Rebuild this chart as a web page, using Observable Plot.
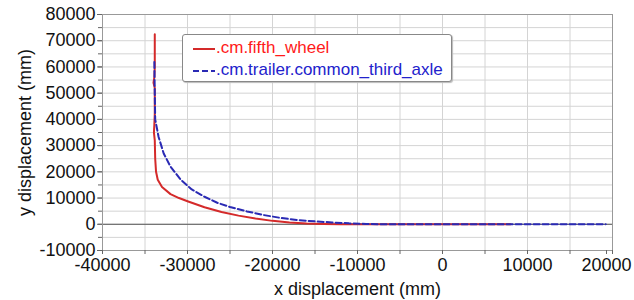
<!DOCTYPE html>
<html><head><meta charset="utf-8">
<script src="https://cdn.jsdelivr.net/npm/d3@7"></script>
<script src="https://cdn.jsdelivr.net/npm/@observablehq/plot@0.6"></script>
<style>
body{margin:0;background:#fff;font-family:"Liberation Sans",Arial,sans-serif;}
#wrap{position:relative;width:634px;height:300px;overflow:hidden;}
#legend{position:absolute;left:182px;top:34px;width:268px;height:46px;border:1px solid #888;border-radius:3px;background:#fff;font-size:17px;box-shadow:1px 1px 1px #bbb;}
#legend div{position:absolute;left:10px;white-space:nowrap;line-height:20px;}
#legend svg{vertical-align:middle;margin-right:1px;}
</style>
</head><body>
<div id="wrap"></div>
<script>
const seriesNames = [".cm.fifth_wheel", ".cm.trailer.common_third_axle"];
const fifthX = [-33850,-33850,-33900,-34000,-33850,-33850,-33900,-33950,-33850,-33800,-33700,-33500,-33000,-32000,-31000,-30000,-28000,-26000,-24000,-22000,-20000,-18000,-16000,-14000,-12000,0,8000];
const fifthY = [72500,60000,56000,54000,52000,42000,38000,35000,32000,25000,20000,17000,14200,11500,10000,8800,6500,4700,3300,2200,1300,700,300,100,0,0,0];
const thirdX = [-33900,-33850,-33800,-33400,-32800,-32000,-30800,-29500,-28000,-26500,-25000,-23000,-21000,-19000,-17000,-15000,-13000,-11000,-9000,-7000,19200];
const thirdY = [61900,50000,40000,33300,27000,22000,17000,13300,10500,8200,6600,4900,3500,2400,1600,1100,700,350,150,0,0];
const xTicks = [-40000,-30000,-20000,-10000,0,10000,20000];
const yTicks = [-10000,0,10000,20000,30000,40000,50000,60000,70000,80000];
const colors = ["#d42a2a","#2a2ab4"];
const textColors = ["#ff1a1a","#2222cc"];

const fifth = fifthX.map((x,i)=>({x, y: fifthY[i]}));
const third = thirdX.map((x,i)=>({x, y: thirdY[i]}));
const minorX = d3.range(-40000,20001,5000);
const minorY = d3.range(-10000,80001,5000);
const lastX = xTicks[xTicks.length-1];

const chart = Plot.plot({
  width: 634, height: 300,
  marginLeft: 102, marginRight: 22, marginTop: 14, marginBottom: 50,
  style: {fontFamily: '"Liberation Sans", Arial, sans-serif', fontSize: "18px", color: "#111", background: "#fff"},
  x: {domain: [-40000, 20000]},
  y: {domain: [-10000, 80000]},
  marks: [
    Plot.gridX(minorX, {stroke: "#d4d4d4", strokeOpacity: 1}),
    Plot.gridY(minorY, {stroke: "#d4d4d4", strokeOpacity: 1}),
    Plot.ruleY([0], {stroke: "#555", strokeWidth: 1}),
    Plot.frame({stroke: "#999"}),
    Plot.axisX(xTicks.slice(0,-1), {tickSize: 4, tickPadding: 4, stroke: "#666", fontSize: 18, tickFormat: d => String(d), label: "x displacement (mm)", labelAnchor: "center", labelArrow: "none", labelOffset: 44}),
    Plot.axisX([lastX], {tickSize: 4, tickPadding: 4, stroke: "#666", fontSize: 18, dx: -6, tickFormat: d => String(d), label: null}),
    Plot.axisX(minorX, {tickSize: 4, stroke: "#666", text: null, label: null}),
    Plot.axisY(yTicks, {tickSize: 5, tickPadding: 2, stroke: "#666", fontSize: 18, tickFormat: d => String(d), label: "y displacement (mm)", labelAnchor: "center", labelArrow: "none", labelOffset: 84}),
    Plot.axisY(minorY, {tickSize: 4, stroke: "#666", text: null, label: null}),
    Plot.line(fifth, {x: "x", y: "y", stroke: colors[0], strokeWidth: 2}),
    Plot.line(third, {x: "x", y: "y", stroke: colors[1], strokeWidth: 2, strokeDasharray: "6,3"})
  ]
});
const wrap = document.getElementById("wrap");
wrap.appendChild(chart);
const leg = document.createElement("div");
leg.id = "legend";
seriesNames.forEach((n,i)=>{
  const d = document.createElement("div");
  d.style.top = (i===0 ? 3 : 25) + "px";
  d.style.color = textColors[i];
  d.innerHTML = `<svg width="22" height="10"><line x1="0" x2="22" y1="5" y2="5" stroke="${colors[i]}" stroke-width="2" ${i===1?'stroke-dasharray="6,3"':''}/></svg>${n}`;
  leg.appendChild(d);
});
wrap.appendChild(leg);
</script>
</body></html>
